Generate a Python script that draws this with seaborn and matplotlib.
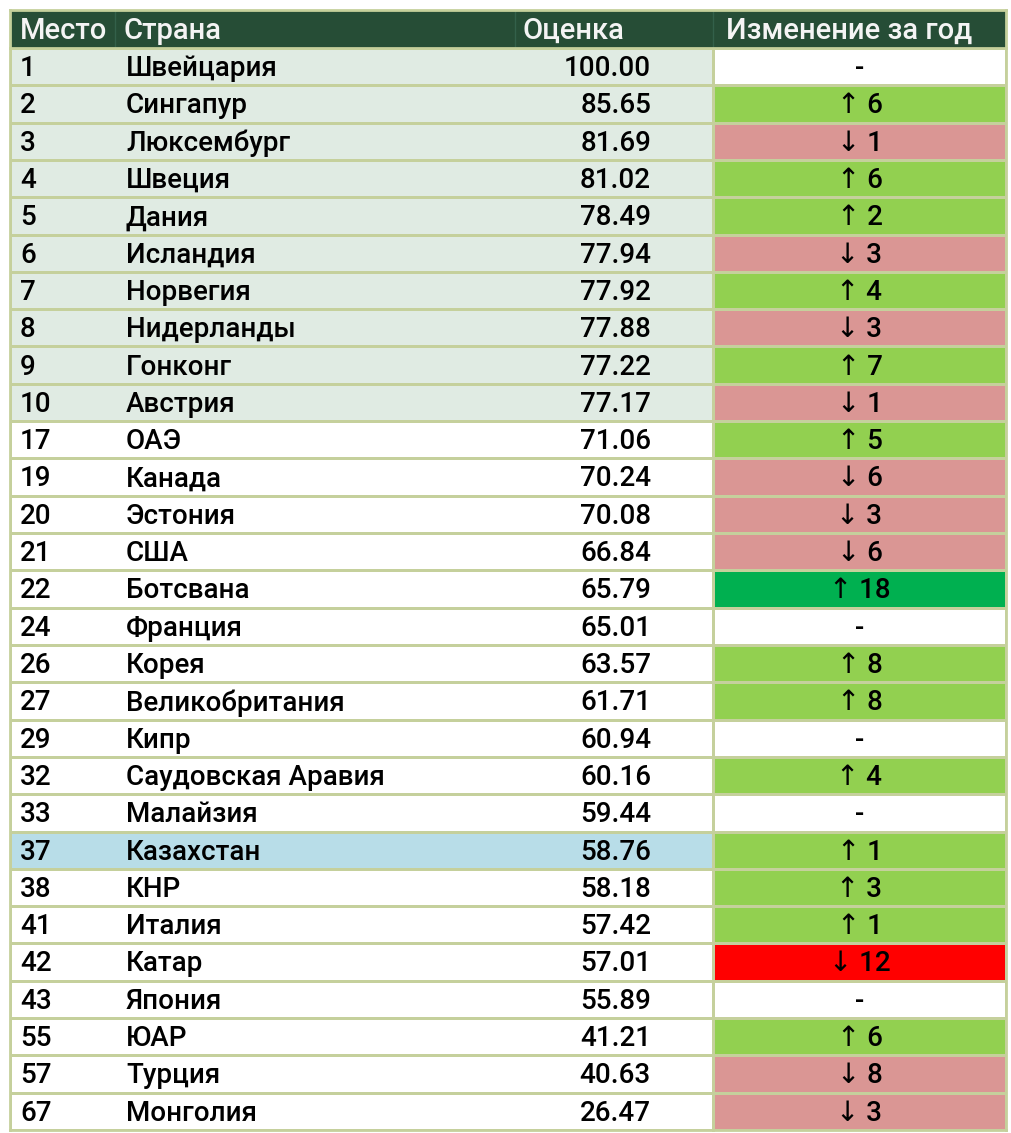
import numpy as np
import pandas as pd
import seaborn as sns
import matplotlib
matplotlib.use("Agg")
import matplotlib.pyplot as plt
from matplotlib.colors import ListedColormap
from matplotlib.transforms import blended_transform_factory

# ---------------- data ----------------
headers = ["Место", "Страна", "Оценка", "Изменение за год"]
ranks = [1, 2, 3, 4, 5, 6, 7, 8, 9, 10, 17, 19, 20, 21, 22, 24, 26, 27, 29, 32,
         33, 37, 38, 41, 42, 43, 55, 57, 67]
countries = ["Швейцария", "Сингапур", "Люксембург", "Швеция", "Дания", "Исландия",
             "Норвегия", "Нидерланды", "Гонконг", "Австрия", "ОАЭ", "Канада",
             "Эстония", "США", "Ботсвана", "Франция", "Корея", "Великобритания",
             "Кипр", "Саудовская Аравия", "Малайзия", "Казахстан", "КНР", "Италия",
             "Катар", "Япония", "ЮАР", "Турция", "Монголия"]
scores = [100.00, 85.65, 81.69, 81.02, 78.49, 77.94, 77.92, 77.88, 77.22, 77.17,
          71.06, 70.24, 70.08, 66.84, 65.79, 65.01, 63.57, 61.71, 60.94, 60.16,
          59.44, 58.76, 58.18, 57.42, 57.01, 55.89, 41.21, 40.63, 26.47]
changes = [0, 6, -1, 6, 2, -3, 4, -3, 7, -1, 5, -6, -3, -6, 18, 0, 8, 8, 0, 4,
           0, 1, 3, 1, -12, 0, 6, -8, -3]
highlight = "Казахстан"

# ---------------- style ----------------
sns.set_theme(style="white")
plt.rcParams["font.family"] = ["Roboto", "DejaVu Sans"]

W, H = 1012, 1133
fig = plt.figure(figsize=(W / 100, H / 100), dpi=100)
fig.patch.set_facecolor("white")

n = len(ranks)
x0, x_split, x1 = 10, 713, 1006
y_head_top, y_head_bot, y_bot = 10, 48, 1130

def fax(xl, xr, yt, yb):
    return fig.add_axes([xl / W, 1 - yb / H, (xr - xl) / W, (yb - yt) / H])

border = "#c5d09c"
fs = 20
fw = "medium"

left_codes = np.array([[2 if c == highlight else (1 if r <= 10 else 0)]
                       for r, c in zip(ranks, countries)])
left_cmap = ListedColormap(["#ffffff", "#e0ebe3", "#b8dde8"])

def ccode(v):
    if v == 0:
        return 0
    if v >= 10:
        return 2
    if v > 0:
        return 1
    if v <= -10:
        return 4
    return 3
right_codes = np.array([[ccode(v)] for v in changes])
right_cmap = ListedColormap(["#ffffff", "#92d050", "#00b050", "#da9694", "#ff0000"])

axL = fax(x0, x_split, y_head_bot, y_bot)
sns.heatmap(pd.DataFrame(left_codes), ax=axL, cmap=left_cmap, vmin=-0.5, vmax=2.5,
            cbar=False, linewidths=2, linecolor=border, xticklabels=False,
            yticklabels=False)
axR = fax(x_split, x1, y_head_bot, y_bot)
sns.heatmap(pd.DataFrame(right_codes), ax=axR, cmap=right_cmap, vmin=-0.5, vmax=4.5,
            cbar=False, linewidths=2, linecolor=border, xticklabels=False,
            yticklabels=False)

axH = fax(x0, x1, y_head_top, y_head_bot)
sns.heatmap(pd.DataFrame([[0, 0, 0, 0]]), ax=axH, cmap=ListedColormap(["#264d36"]),
            cbar=False, linewidths=0, xticklabels=False, yticklabels=False)

for ax in (axL, axR, axH):
    for s in ax.spines.values():
        s.set_visible(True)
        s.set_color(border)
        s.set_linewidth(2)

for px in (115, 515, 713):
    axH.axvline((px - x0) / (x1 - x0) * 4, color="#33604a", lw=1.0)

th = blended_transform_factory(axH.transAxes, axH.transData)
hx = [20, 124, 523, 726]
for h, px in zip(headers, hx):
    axH.text((px - x0) / (x1 - x0), 0.55, h, transform=th, color="#f4f4f4",
             fontsize=21, fontweight=fw, va="center", ha="left")

tl = blended_transform_factory(axL.transAxes, axL.transData)
tr = blended_transform_factory(axR.transAxes, axR.transData)
wl = x_split - x0
for i in range(n):
    y = i + 0.55
    axL.text((20 - x0) / wl, y, str(ranks[i]), transform=tl, fontsize=fs,
             fontweight=fw, va="center", ha="left", color="black")
    axL.text((126 - x0) / wl, y, countries[i], transform=tl, fontsize=fs,
             fontweight=fw, va="center", ha="left", color="black")
    axL.text((651 - x0) / wl, y, f"{scores[i]:.2f}", transform=tl, fontsize=fs,
             fontweight=fw, va="center", ha="right", color="black")
    v = changes[i]
    if v == 0:
        s = "-"
    elif v > 0:
        s = f"↑ {v}"
    else:
        s = f"↓ {-v}"
    axR.text(0.5, y, s, transform=tr, fontsize=fs, fontweight=fw, va="center",
             ha="center", color="black")

fig.savefig("out.png", dpi=100)
